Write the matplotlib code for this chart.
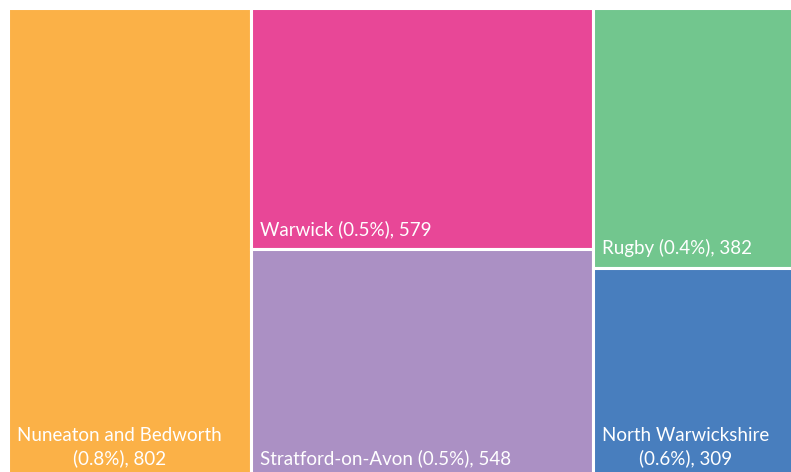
import matplotlib.pyplot as plt
from matplotlib.patches import Rectangle

names = ["Nuneaton and Bedworth", "Warwick", "Stratford-on-Avon", "Rugby", "North Warwickshire"]
pcts = ["0.8%", "0.5%", "0.5%", "0.4%", "0.6%"]
values = [802, 579, 548, 382, 309]
colors = ["#FBB147", "#E84797", "#AB90C4", "#72C68E", "#487EBE"]
# columns of the treemap (indices into the lists above), top to bottom
columns = [[0], [1, 2], [3, 4]]

plt.rcParams['font.family'] = ['Lato', 'DejaVu Sans']

W, H = 791, 472
fig = plt.figure(figsize=(W / 100, H / 100), dpi=100)
# chart area runs off the right/bottom edge a little, like the screenshot
left, top, bottom, right = 8, 8, -6, 803
ax = fig.add_axes([left / W, bottom / H, (right - left) / W, (H - top - bottom) / H])
total = sum(values)
ax.set_xlim(0, total)
ax.set_ylim(1, 0)
ax.axis("off")

# pixel -> data conversions for padding
px_x = total / (right - left)
px_y = 1 / (H - top - bottom)

x = 0
for col in columns:
    cw = sum(values[i] for i in col)
    y = 0
    for i in col:
        h = values[i] / cw
        ax.add_patch(Rectangle((x, y), cw, h, facecolor=colors[i],
                               edgecolor="white", linewidth=2.2))
        if len(names[i]) > 17:
            lab = f"{names[i]}\n({pcts[i]}), {values[i]}"
        else:
            lab = f"{names[i]} ({pcts[i]}), {values[i]}"
        ax.text(x + 9 * px_x, y + h - 11 * px_y, lab, color="white",
                fontsize=13.5, ha="left", va="bottom", multialignment="center",
                linespacing=1.35)
        y += h
    x += cw

fig.savefig("out.png", dpi=100)
